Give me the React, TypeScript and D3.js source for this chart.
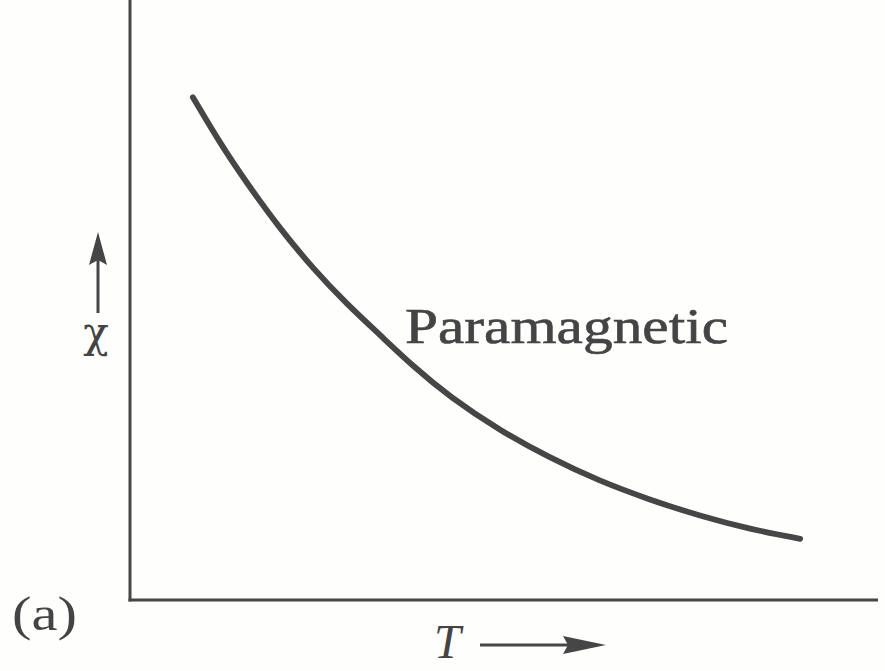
import React from "react";
import * as d3 from "d3";

// Susceptibility vs temperature (arbitrary units, Curie-like falloff)
const tempValues = [8.4, 12.0, 15.6, 20.1, 24.5, 29.0, 33.4, 37.8, 42.8, 49.5, 56.1, 62.8, 69.5, 76.2, 82.9, 89.6];
const chiValues = [83.8, 76.2, 69.5, 61.8, 55.2, 49.3, 44.2, 39.0, 33.8, 28.2, 23.7, 19.8, 16.7, 14.0, 11.8, 10.2];

const curveLabel = "Paramagnetic";
const xLabel = "T";
const yLabel = "χ";
const panelLabel = "(a)";

const W = 885;
const H = 671;
const ink = "#464646";
const serif = "'Liberation Serif', 'DejaVu Serif', serif";

export default function App() {
  const x = d3.scaleLinear().domain([0, 100]).range([130, 878]);
  const y = d3.scaleLinear().domain([0, 100]).range([600, 0]);

  const points = tempValues.map((t, i) => [t, chiValues[i]] as [number, number]);
  const line = d3
    .line<[number, number]>()
    .x((d) => x(d[0]))
    .y((d) => y(d[1]))
    .curve(d3.curveBasis);

  const x0 = x(0);
  const y0 = y(0);

  return (
    <svg
      width={W}
      height={H}
      viewBox={`0 0 ${W} ${H}`}
      style={{ position: "absolute", left: 0, top: 0, background: "#fff" }}
    >
      <rect width={W} height={H} fill="#fefefd" />
      {/* axes */}
      <line x1={x0} y1={y(100)} x2={x0} y2={y0 + 1.5} stroke={ink} strokeWidth={3} />
      <line x1={x0 - 1.5} y1={y0} x2={x(100)} y2={y0} stroke={ink} strokeWidth={3} />

      {/* curve */}
      <path
        d={line(points) || ""}
        fill="none"
        stroke={ink}
        strokeWidth={5.8}
        strokeLinecap="round"
      />

      <text
        x={405}
        y={343}
        fontFamily={serif}
        fontSize={50}
        fill="#444"
        stroke="#444"
        strokeWidth={0.6}
        textLength={323}
        lengthAdjust="spacingAndGlyphs"
      >
        {curveLabel}
      </text>

      {/* y-axis label with upward arrow */}
      <line x1={98} y1={313} x2={98} y2={255} stroke={ink} strokeWidth={3} />
      <path d="M98,232 L107,265 L98,260 L89,265 Z" fill={ink} />
      <text
        x={96}
        y={347}
        fontFamily="'DejaVu Serif', serif"
        fontSize={42}
        fill="#444"
        textAnchor="middle"
      >
        {yLabel}
      </text>

      {/* x-axis label with rightward arrow */}
      <text x={434} y={658} fontFamily={serif} fontSize={48} fontStyle="italic" fill="#444">
        {xLabel}
      </text>
      <line x1={480} y1={645} x2={575} y2={645} stroke={ink} strokeWidth={3} />
      <path d="M606,645 L563,636 L568,645 L563,654 Z" fill={ink} />

      <text
        x={12}
        y={630}
        fontFamily={serif}
        fontSize={48}
        fill="#444"
        textLength={65}
        lengthAdjust="spacingAndGlyphs"
      >
        {panelLabel}
      </text>
    </svg>
  );
}
